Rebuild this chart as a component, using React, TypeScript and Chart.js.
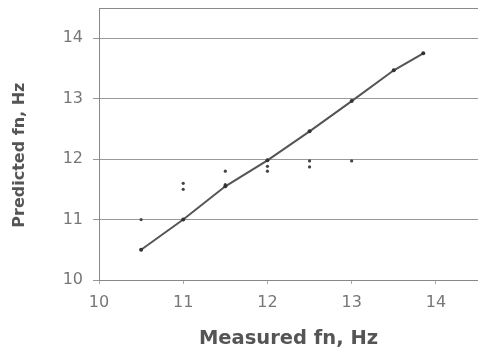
import React, { useEffect, useRef } from "react";
import { Chart, registerables } from "chart.js";

Chart.register(...registerables);

// Points lying on the fitted line
const lineMeasured = [10.5, 11, 11.5, 12, 12.5, 13, 13.5, 13.85];
const linePredicted = [10.5, 11, 11.55, 11.98, 12.46, 12.96, 13.47, 13.75];

// Other measured/predicted points
const scatterMeasured = [10.5, 11, 11, 11.5, 11.5, 12, 12, 12.5, 12.5, 13];
const scatterPredicted = [11, 11.6, 11.5, 11.8, 11.58, 11.88, 11.8, 11.97, 11.87, 11.97];

const xTitle = "Measured fn, Hz";
const yTitle = "Predicted fn, Hz\u00a0\u00a0\u00a0\u00a0";
const axisMin = 10;
const axisMax = 14.5;

const FONT = "'DejaVu Sans', Verdana, sans-serif";

const topBorder = {
  id: "topBorder",
  afterDraw(chart: any) {
    const { ctx, chartArea } = chart;
    ctx.save();
    ctx.strokeStyle = "#8a8a8a";
    ctx.lineWidth = 1;
    ctx.beginPath();
    ctx.moveTo(chartArea.left, chartArea.top + 0.5);
    ctx.lineTo(chartArea.right, chartArea.top + 0.5);
    ctx.stroke();
    ctx.restore();
  },
};

export default function App() {
  const ref = useRef<HTMLCanvasElement>(null);
  useEffect(() => {
    document.body.style.margin = "0";
    const chart = new Chart(ref.current!, {
      type: "scatter",
      data: {
        datasets: [
          {
            data: lineMeasured.map((x, i) => ({ x, y: linePredicted[i] })),
            showLine: true,
            borderColor: "#555",
            borderWidth: 2,
            pointRadius: 2,
            pointBackgroundColor: "#333",
            pointBorderColor: "#333",
            pointBorderWidth: 0,
          },
          {
            data: scatterMeasured.map((x, i) => ({ x, y: scatterPredicted[i] })),
            showLine: false,
            pointRadius: 1.6,
            pointBackgroundColor: "#444",
            pointBorderColor: "#444",
            pointBorderWidth: 0,
          },
        ],
      },
      plugins: [topBorder],
      options: {
        animation: false,
        responsive: false,
        maintainAspectRatio: false,
        layout: { autoPadding: false, padding: { top: 8, right: 0, left: 0, bottom: 0 } },
        plugins: { legend: { display: false }, tooltip: { enabled: false } },
        scales: {
          x: {
            type: "linear",
            min: axisMin,
            max: axisMax,
            afterFit: (s: any) => {
              s.height = 73;
              s.paddingLeft = 0;
              s.paddingRight = 0;
            },
            ticks: {
              stepSize: 1,
              includeBounds: false,
              color: "#777",
              font: { family: FONT, size: 16 },
              padding: 9,
              maxRotation: 0,
              autoSkip: false,
            },
            grid: {
              drawOnChartArea: false,
              drawTicks: true,
              tickLength: 4,
              color: "#aaa",
            },
            border: { color: "#888", width: 1 },
            title: {
              display: true,
              text: xTitle,
              color: "#555",
              font: { family: FONT, size: 19.5, weight: "bold" },
              padding: { top: 0, bottom: 2 },
            },
          },
          y: {
            type: "linear",
            min: axisMin,
            max: axisMax,
            afterFit: (s: any) => {
              s.width = 99;
              s.paddingTop = 0;
              s.paddingBottom = 0;
            },
            ticks: {
              stepSize: 1,
              includeBounds: false,
              color: "#777",
              font: { family: FONT, size: 16 },
              padding: 10,
              autoSkip: false,
            },
            grid: {
              drawTicks: true,
              tickLength: 6,
              color: "#999",
            },
            border: { color: "#888", width: 1 },
            title: {
              display: true,
              text: yTitle,
              color: "#555",
              font: { family: FONT, size: 16, weight: "bold" },
              padding: { top: 10, bottom: 0 },
            },
          },
        },
      },
    });
    return () => chart.destroy();
  }, []);
  return (
    <div style={{ position: "absolute", left: 0, top: 0, width: 478, height: 353, background: "#fff" }}>
      <canvas ref={ref} width={478} height={353} style={{ width: 478, height: 353 }} />
    </div>
  );
}
